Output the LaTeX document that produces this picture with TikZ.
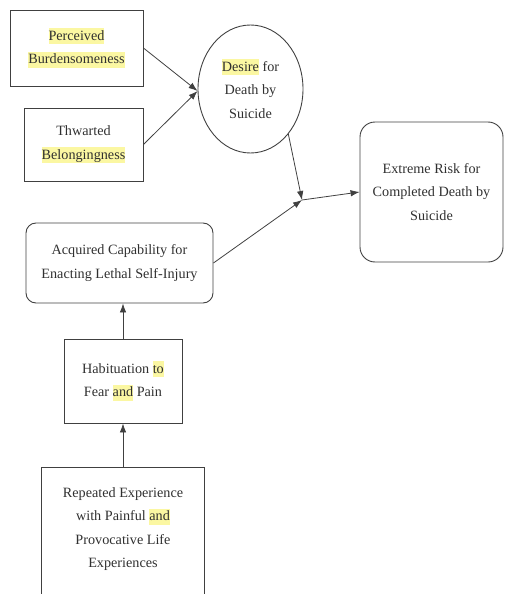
\documentclass[tikz,border=0pt]{standalone}
\usepackage{fontspec}
\setmainfont{Liberation Serif}
\usetikzlibrary{arrows.meta,shapes.geometric}
\definecolor{hly}{HTML}{FBF7A2}
\definecolor{ln}{HTML}{404040}
\definecolor{tx}{HTML}{303030}
\newcommand\hlw[1]{{\setlength{\fboxsep}{0pt}\colorbox{hly}{\rule[-0.28em]{0pt}{1.12em}#1}}}
\begin{document}
\begin{tikzpicture}[x=1pt,y=-1pt,
  every node/.style={font=\rmfamily\fontsize{14.2}{23.5}\selectfont, text=tx, align=center, inner sep=0pt},
  sq/.style={draw=ln, line width=0.9pt, rectangle},
  rnd/.style={draw=ln, line width=0.9pt, rectangle, rounded corners=#1},
  conn/.style={draw=ln, line width=0.8pt},
  arr/.style={conn, -{Latex[length=9pt,width=6.5pt]}}]
\useasboundingbox (0,0) rectangle (505,594);
\clip (0,0) rectangle (505,594);
\node[sq, minimum width=133, minimum height=76] (per) at (76.5,48) {\hlw{Perceived}\\\hlw{Burdensomeness}};
\node[sq, minimum width=119, minimum height=73] (thw) at (83.5,144.5) {Thwarted\\\hlw{Belongingness}};
\node[ellipse, draw=ln, line width=0.9pt, minimum width=105, minimum height=128] (des) at (250.5,89) {\hlw{Desire} for\\Death by\\Suicide};
\node[rnd=15pt, minimum width=143, minimum height=140] (ext) at (431.5,192) {Extreme Risk for\\Completed Death by\\Suicide};
\node[rnd=10pt, minimum width=187, minimum height=80] (acq) at (119.5,263) {Acquired Capability for\\Enacting Lethal Self-Injury};
\node[sq, minimum width=118, minimum height=84] (hab) at (123,381) {Habituation \hlw{to}\\Fear \hlw{and} Pain};
\node[minimum width=162, minimum height=122] (rep) at (123,529) {Repeated Experience\\with Painful \hlw{and}\\Provocative Life\\Experiences};
\draw[conn, line width=0.9pt] ([yshift=-20pt]rep.south west) -- (rep.north west) -- (rep.north east) -- ([yshift=-20pt]rep.south east);
\coordinate (j) at (302,200);
\draw[arr] (per.east) -- ([yshift=-2pt]des.west);
\draw[arr] (thw.east) -- ([yshift=-2pt]des.west);
\draw[arr] (des.-50) -- (j);
\draw[arr] (acq.east) -- (j);
\draw[arr] (j) -- (ext.west);
\draw[arr] (hab.north) -- (hab.north |- acq.south);
\draw[arr] (rep.north) -- (hab.south);
\end{tikzpicture}
\end{document}
